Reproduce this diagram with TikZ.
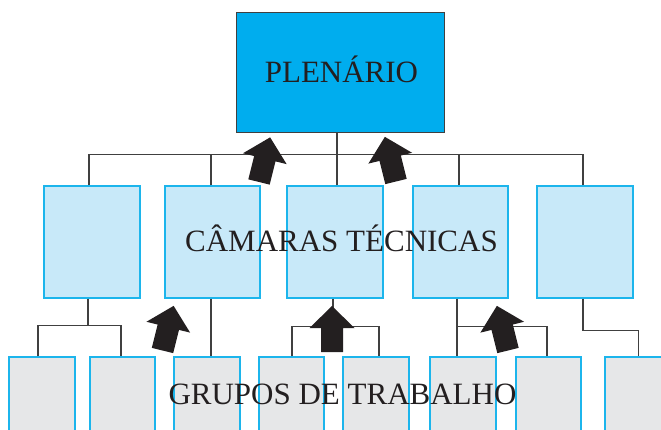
\documentclass[tikz,border=0pt]{standalone}
\usepackage{fontspec}
\setmainfont{Liberation Serif}
\definecolor{topfill}{HTML}{00ADEE}
\definecolor{midfill}{HTML}{C8E9F9}
\definecolor{botfill}{HTML}{E6E7E8}
\definecolor{boxline}{HTML}{1CB5EC}
\definecolor{inkdark}{HTML}{231F20}
\definecolor{connline}{HTML}{404040}
\tikzset{
  topbox/.style={draw=connline, line width=1pt, fill=topfill, inner sep=0pt, minimum width=208pt, minimum height=120pt},
  midbox/.style={draw=boxline, line width=1.3pt, fill=midfill, inner sep=0pt, minimum height=112pt},
  botbox/.style={draw=boxline, line width=1.3pt, fill=botfill, inner sep=0pt, minimum height=90pt},
  conn/.style={draw=connline, line width=1.1pt},
  label/.style={text=inkdark, font=\fontsize{31}{37}\selectfont, anchor=base, inner sep=0pt},
  uparrow/.pic={\fill[inkdark] (-11,0) -- (-11,-24) -- (-22.5,-24) -- (0,-46) -- (22.5,-24) -- (11,-24) -- (11,0) -- cycle;}
}
\begin{document}
\begin{tikzpicture}[x=1pt, y=-1pt]
\useasboundingbox (0,0) rectangle (661,430);
\clip (0,0) rectangle (661,430);
% top
\node[topbox] (top) at (340,72.5) {};
% middle row
\node[midbox, minimum width=96pt] (m1) at (92,242) {};
\node[midbox, minimum width=95pt] (m2) at (212.5,242) {};
\node[midbox, minimum width=96pt] (m3) at (335,242) {};
\node[midbox, minimum width=95pt] (m4) at (460.5,242) {};
\node[midbox, minimum width=96pt] (m5) at (585,242) {};
% bottom row
\node[botbox, minimum width=66pt] (b1) at (42,402) {};
\node[botbox, minimum width=65pt] (b2) at (122.5,402) {};
\node[botbox, minimum width=66pt] (b3) at (207,402) {};
\node[botbox, minimum width=65pt] (b4) at (291.5,402) {};
\node[botbox, minimum width=66pt] (b5) at (376,402) {};
\node[botbox, minimum width=66pt] (b6) at (463,402) {};
\node[botbox, minimum width=65pt] (b7) at (548.5,402) {};
\node[botbox, minimum width=66pt] (b8) at (638,402) {};
% upper connectors
\draw[conn] ([xshift=-3pt]m1.north) -- ++(0,-31) -| ([xshift=-2pt]m5.north);
\draw[conn] ([xshift=-1.5pt]m2.north) -- ++(0,-31);
\draw[conn] ([xshift=-1.5pt]m4.north) -- ++(0,-31);
\draw[conn] ([xshift=2pt]m3.north) -- ([xshift=2pt]m3.north |- top.south);
% lower connectors
\draw[conn] ([xshift=-4pt]m1.south) -- ++(0,27) coordinate (j1);
\draw[conn] ([xshift=-4pt]b1.north) |- (j1) -| ([xshift=-1.5pt]b2.north);
\draw[conn] ([xshift=-1.5pt]m2.south) -- ([xshift=-1.5pt]m2.south |- b3.north);
\draw[conn] ([xshift=-2pt]m3.south) -- ++(0,28) coordinate (j3);
\draw[conn] ([xshift=0.5pt]b4.north) |- (j3) -| ([xshift=3pt]b5.north);
\draw[conn] ([xshift=-3.5pt]m4.south) -- ([xshift=-3.5pt]m4.south |- b6.north);
\draw[conn] ([xshift=-3.5pt]m4.south) ++(0,28) -| ([xshift=-1.5pt]b7.north);
\draw[conn] ([xshift=-2pt]m5.south) -- ++(0,32) -| ([xshift=0.5pt]b8.north);
% block arrows
\pic[rotate=-14] at (259,182) {uparrow};
\pic[rotate=14] at (396,181.5) {uparrow};
\pic[rotate=-14] at (162.5,350.5) {uparrow};
\pic at (332,352) {uparrow};
\pic[rotate=14] at (508,350.5) {uparrow};
% labels
\node[label] (tplen) at (341.5,83) {PLENÁRIO};
\node[label] (tcam) at (341.5,252) {CÂMARAS TÉCNICAS};
\node[label] (tgrp) at (342.5,404) {GRUPOS DE TRABALHO};
\end{tikzpicture}
\end{document}
